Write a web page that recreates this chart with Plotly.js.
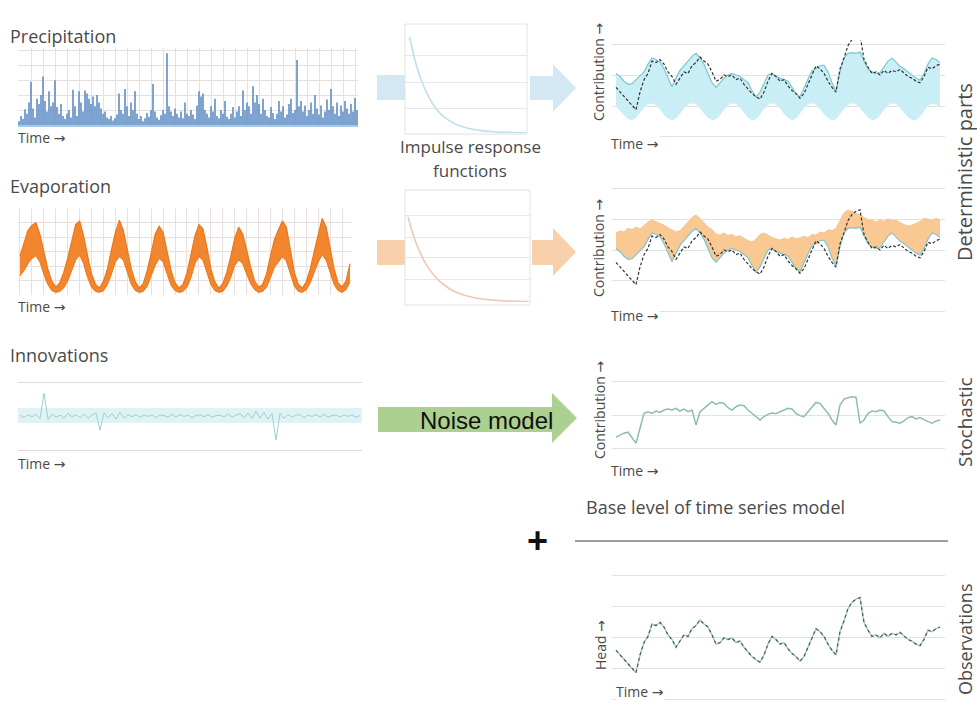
<!DOCTYPE html>
<html><head><meta charset="utf-8">
<script src="https://cdn.plot.ly/plotly-3.0.1.min.js"></script>
<style>html,body{margin:0;padding:0;background:#fff;}#chart{width:977px;height:702px;}</style>
</head><body><div id="chart"></div>
<script>
// ---------- DATA ----------
const precipitation = [
0.5,1.2,0.8,2.1,1.5,3.0,5.8,2.2,1.0,3.5,
2.8,4.0,6.5,3.2,1.8,4.5,2.5,3.0,6.0,2.4,
1.5,2.8,1.2,0.8,1.5,2.0,1.0,4.7,2.5,1.2,
4.5,3.0,1.8,4.6,4.2,3.5,2.8,3.8,2.5,4.0,
3.0,2.2,1.5,1.8,1.0,0.8,1.2,0.6,0.9,1.4,
4.2,2.0,1.5,4.8,2.5,1.2,3.0,2.0,4.5,1.5,
0.8,1.2,0.5,0.9,1.6,1.1,2.0,5.5,1.8,1.0,
0.7,1.3,2.0,1.5,9.6,2.5,1.8,1.2,2.2,1.5,
1.0,1.8,0.9,3.0,1.5,1.2,2.0,1.4,0.8,2.6,
4.5,3.8,4.2,2.0,1.5,1.0,2.5,1.8,3.5,1.2,
0.9,2.0,1.5,3.2,1.1,0.8,1.5,2.4,1.0,1.8,
2.5,1.2,4.6,2.0,3.0,2.5,1.5,5.2,3.0,4.0,
2.8,1.5,3.5,2.0,1.2,1.0,2.4,1.6,0.8,1.5,
3.2,1.8,2.5,1.0,1.4,2.8,3.5,1.6,2.0,8.7,
2.5,3.2,1.8,2.6,1.2,2.0,3.0,1.5,4.0,2.2,
1.4,2.6,1.0,1.8,3.4,2.0,4.8,2.5,1.5,3.0,
1.2,2.6,1.8,3.2,2.2,1.5,2.8,1.8,3.6,2.0];

const evapUpper = [
4.5,6.0,7.4,8.0,8.3,7.0,5.0,3.0,1.6,0.9,
1.4,2.6,4.2,6.3,8.1,8.5,6.8,4.5,2.4,1.2,
0.8,1.6,3.0,5.2,7.2,8.6,7.4,5.2,3.0,1.5,
0.8,1.3,2.8,4.8,7.0,7.9,7.2,5.0,2.8,1.4,
0.8,1.2,2.5,4.6,6.8,8.1,7.6,5.5,3.0,1.5,
0.8,1.3,2.6,4.4,6.5,7.8,7.0,5.2,3.2,1.6,
0.9,1.2,2.4,4.5,6.4,7.5,8.5,7.8,5.0,2.6,
1.2,0.8,1.5,3.0,5.0,7.0,8.8,7.8,5.4,3.0,
1.4,0.9,1.6,3.6];
const evapLower = [
2.2,2.8,3.6,4.2,4.5,3.8,2.4,1.2,0.5,0.3,
0.4,0.8,1.6,2.8,4.0,4.6,3.6,2.0,0.9,0.4,
0.3,0.5,1.2,2.4,3.8,4.4,4.0,2.6,1.2,0.5,
0.3,0.4,1.0,2.2,3.4,4.2,3.8,2.4,1.1,0.5,
0.3,0.4,0.9,2.0,3.6,4.4,4.0,2.6,1.2,0.5,
0.3,0.4,1.0,2.0,3.4,4.0,3.6,2.4,1.3,0.6,
0.3,0.4,0.9,2.0,3.2,3.8,4.4,3.9,2.4,1.0,
0.4,0.3,0.6,1.4,2.6,3.8,4.6,4.0,2.6,1.2,
0.5,0.3,0.6,1.5];

const innovations = [
0.10,-0.20,0.15,-0.10,0.20,-0.30,2.70,-0.40,0.20,-0.15,
0.10,-0.25,0.30,-0.10,0.15,-0.20,0.25,-0.30,0.10,0.35,
-1.65,0.40,-0.20,0.30,-0.35,0.45,-0.25,0.15,-0.10,0.20,
-0.15,0.10,-0.05,0.15,-0.20,0.10,0.05,-0.15,0.20,-0.10,
0.15,-0.05,0.10,-0.20,0.05,0.15,-0.10,0.20,-0.15,0.05,
0.10,-0.10,0.25,-0.15,0.10,0.30,-0.20,0.35,-0.30,0.55,
-0.25,0.40,-0.35,0.30,-2.80,0.35,-0.30,0.20,-0.15,0.10,
0.15,-0.20,0.10,-0.05,0.15,-0.10,0.20,-0.15,0.05,0.10,
-0.10,0.15,-0.05,0.10,-0.15,0.05];

const irfLag = [0,1,2,3,4,5,6,7,8,9,10,11,12,13,14,15,16,17,18,19,20];
const irfPrecip = [1.00,0.74,0.55,0.41,0.30,0.22,0.165,0.122,0.09,0.067,0.05,0.037,0.027,0.02,0.015,0.011,0.008,0.006,0.004,0.003,0.002];
const irfEvap = [1.00,0.76,0.58,0.44,0.34,0.26,0.20,0.15,0.115,0.088,0.067,0.051,0.039,0.03,0.023,0.017,0.013,0.01,0.008,0.006,0.005];

const simulation = [
2.05,1.95,1.80,1.70,1.72,1.85,1.95,2.10,2.35,2.55,
2.50,2.42,2.20,1.90,1.62,1.90,2.15,2.30,2.45,2.60,
2.70,2.55,2.35,2.05,1.75,1.60,1.75,1.90,2.00,2.05,
2.00,1.95,1.85,1.75,1.50,1.28,1.45,1.75,2.00,2.05,
1.95,1.90,1.85,1.80,1.60,1.40,1.30,1.60,1.90,2.15,
2.20,2.30,2.32,2.10,1.75,1.48,2.10,2.55,2.70,2.72,
2.70,2.74,2.45,2.20,2.10,2.05,2.08,2.25,2.45,2.55,
2.40,2.28,2.20,2.10,2.00,1.90,1.84,2.05,2.35,2.55,
2.50,2.40];
const precipBase = [
1.00,0.85,0.70,0.58,0.55,0.62,0.78,0.95,1.05,1.08,
1.02,0.88,0.72,0.60,0.55,0.60,0.75,0.92,1.04,1.08,
1.05,0.92,0.76,0.62,0.55,0.57,0.70,0.88,1.02,1.08,
1.06,0.95,0.78,0.63,0.55,0.58,0.72,0.90,1.03,1.08,
1.04,0.92,0.75,0.62,0.55,0.60,0.76,0.93,1.05,1.08,
1.03,0.90,0.74,0.61,0.55,0.58,0.73,0.90,1.03,1.08,
1.05,0.93,0.77,0.63,0.55,0.57,0.70,0.88,1.02,1.08,
1.06,0.94,0.78,0.64,0.56,0.55,0.66,0.84,1.00,1.07,
1.05,0.95];
const evapTop = [
2.55,2.62,2.58,2.70,2.66,2.74,2.68,2.80,2.90,2.97,
2.92,2.85,2.80,2.72,2.65,2.58,2.62,2.75,2.90,3.05,
3.13,3.02,2.88,2.74,2.66,2.52,2.48,2.55,2.46,2.50,
2.42,2.46,2.38,2.30,2.26,2.35,2.50,2.55,2.48,2.40,
2.36,2.32,2.38,2.34,2.42,2.36,2.39,2.44,2.40,2.50,
2.48,2.58,2.55,2.65,2.62,2.70,2.95,3.20,3.29,3.25,
3.18,3.13,3.05,2.98,2.97,2.90,2.97,2.92,3.00,2.95,
2.97,2.88,2.82,2.78,2.80,2.85,2.92,3.03,3.00,2.96,
3.02,2.97];
const noiseContribution = [
-0.67,-0.60,-0.55,-0.52,-0.70,-0.85,-0.40,0.05,0.10,0.05,
0.12,0.08,0.15,0.18,0.15,0.20,0.12,0.18,0.10,0.15,
-0.30,0.10,0.20,0.30,0.40,0.32,0.38,0.35,0.22,0.15,
0.25,0.30,0.28,0.15,0.05,-0.05,-0.15,-0.05,0.02,0.06,
0.04,0.10,0.15,0.20,0.18,0.05,-0.02,-0.05,0.10,0.25,
0.38,0.35,0.20,0.05,-0.15,-0.30,0.30,0.48,0.52,0.55,
0.54,-0.25,-0.15,0.05,0.12,0.10,0.15,0.12,-0.05,-0.20,
-0.22,-0.25,-0.18,-0.08,-0.05,-0.12,-0.08,-0.15,-0.20,-0.25,
-0.18,-0.15];
const observedHead = [
1.60,1.45,1.30,1.15,1.00,0.88,1.45,1.85,2.05,2.45,
2.40,2.50,2.35,2.10,1.95,1.70,1.90,2.10,2.05,2.30,
2.40,2.58,2.45,2.35,2.10,1.80,1.85,2.00,1.95,2.00,
1.85,1.90,1.70,1.55,1.40,1.30,1.22,1.45,1.80,2.05,
1.95,1.80,1.85,1.65,1.50,1.40,1.25,1.40,1.70,2.00,
2.30,2.20,2.05,1.80,1.60,1.45,2.20,2.55,2.95,3.15,
3.25,3.30,2.50,2.25,2.05,2.10,2.00,2.15,2.05,2.15,
2.10,2.18,2.05,1.95,1.90,1.80,1.75,1.95,2.25,2.20,
2.30,2.35];

// ---------- LAYOUT HELPERS ----------
const W = 977, H = 702;
const fx = p => p / W, fy = p => 1 - p / H;
const steps = n => Array.from({length: n}, (_, i) => i);
const tPrecip = steps(precipitation.length);
const tEvap = steps(evapUpper.length);
const tInnov = steps(innovations.length);
const tModel = steps(simulation.length);

function xa(a, b, range, extra) {
  return Object.assign({domain: [fx(a), fx(b)], range: range, showgrid: false, zeroline: false,
    showticklabels: false, ticks: '', fixedrange: true}, extra || {});
}
function ya(top, bot, range, extra) {
  return Object.assign({domain: [fy(bot), fy(top)], range: range, showgrid: false, zeroline: false,
    showticklabels: false, ticks: '', fixedrange: true}, extra || {});
}
const gridL = '#e8dfdf', gridR = '#e2e2e2';

const traces = [
  {type: 'bar', x: tPrecip, y: precipitation, xaxis: 'x', yaxis: 'y',
   marker: {color: '#5f8dc6', line: {width: 0}}, hoverinfo: 'skip'},
  {type: 'scatter', mode: 'lines', x: tEvap, y: evapLower, xaxis: 'x2', yaxis: 'y2',
   line: {color: '#ee7718', width: 1}},
  {type: 'scatter', mode: 'lines', x: tEvap, y: evapUpper, xaxis: 'x2', yaxis: 'y2',
   line: {color: '#ee7718', width: 1.2}, fill: 'tonexty', fillcolor: 'rgba(240,124,28,0.92)'},
  {type: 'scatter', mode: 'lines', x: tInnov, y: innovations, xaxis: 'x3', yaxis: 'y3',
   line: {color: '#9ccfd4', width: 1}},
  {type: 'scatter', mode: 'lines', x: irfLag, y: irfPrecip, xaxis: 'x4', yaxis: 'y4',
   line: {color: '#bfe0ea', width: 1.6, shape: 'spline'}},
  {type: 'scatter', mode: 'lines', x: irfLag, y: irfEvap, xaxis: 'x5', yaxis: 'y5',
   line: {color: '#f3c6b6', width: 1.6, shape: 'spline'}},
  // precipitation contribution
  {type: 'scatter', mode: 'lines', x: tModel, y: precipBase, xaxis: 'x6', yaxis: 'y6',
   line: {color: 'rgba(0,0,0,0)', width: 0, shape: 'spline'}},
  {type: 'scatter', mode: 'lines', x: tModel, y: simulation, xaxis: 'x6', yaxis: 'y6',
   line: {color: '#7cc8cf', width: 1.2}, fill: 'tonexty', fillcolor: '#c9eef5'},
  {type: 'scatter', mode: 'lines', x: tModel, y: observedHead, xaxis: 'x6', yaxis: 'y6',
   line: {color: '#333', width: 1.2, dash: '3px,2px'}},
  // evaporation contribution
  {type: 'scatter', mode: 'lines', x: tModel, y: simulation, xaxis: 'x7', yaxis: 'y7',
   line: {color: 'rgba(0,0,0,0)', width: 0}},
  {type: 'scatter', mode: 'lines', x: tModel, y: evapTop, xaxis: 'x7', yaxis: 'y7',
   line: {color: '#f8c58e', width: 1}, fill: 'tonexty', fillcolor: '#f9c893'},
  {type: 'scatter', mode: 'lines', x: tModel, y: simulation, xaxis: 'x7', yaxis: 'y7',
   line: {color: '#7cc8cf', width: 1.2}},
  {type: 'scatter', mode: 'lines', x: tModel, y: observedHead, xaxis: 'x7', yaxis: 'y7',
   line: {color: '#333', width: 1.2, dash: '3px,2px'}},
  // stochastic
  {type: 'scatter', mode: 'lines', x: tModel, y: noiseContribution, xaxis: 'x8', yaxis: 'y8',
   line: {color: '#8cbfa7', width: 1.5}},
  // observations
  {type: 'scatter', mode: 'lines', x: tModel, y: observedHead, xaxis: 'x9', yaxis: 'y9',
   line: {color: '#9fd0c0', width: 1.5}},
  {type: 'scatter', mode: 'lines', x: tModel, y: observedHead, xaxis: 'x9', yaxis: 'y9',
   line: {color: '#555', width: 1.2, dash: '3px,3px'}}
];

function pathPx(pts) {
  return 'M ' + pts.map(p => fx(p[0]).toFixed(5) + ',' + fy(p[1]).toFixed(5)).join(' L ') + ' Z';
}
function rectPx(x0, y0, x1, y1, style) {
  return Object.assign({type: 'rect', xref: 'paper', yref: 'paper', x0: fx(x0), x1: fx(x1), y0: fy(y1), y1: fy(y0)}, style);
}
const shapes = [
  rectPx(18, 408, 362, 423, {fillcolor: '#dff3f6', line: {width: 0}, layer: 'below'}),
  rectPx(377, 75, 405, 100, {fillcolor: '#d4e8f3', line: {width: 0}, layer: 'below'}),
  {type: 'path', xref: 'paper', yref: 'paper', path: pathPx([[530,76],[553,76],[553,64],[576,88],[553,112],[553,100],[530,100]]),
   fillcolor: '#d4e8f3', line: {width: 0}, layer: 'below'},
  rectPx(377, 240, 405, 265, {fillcolor: '#f9d0ac', line: {width: 0}, layer: 'below'}),
  {type: 'path', xref: 'paper', yref: 'paper', path: pathPx([[532,240],[553,240],[553,228],[576,252],[553,276],[553,265],[532,265]]),
   fillcolor: '#f9d0ac', line: {width: 0}, layer: 'below'},
  {type: 'path', xref: 'paper', yref: 'paper', path: pathPx([[378,407],[552,407],[552,393],[577,418],[552,443],[552,432],[378,432]]),
   fillcolor: '#abd08f', line: {width: 0}, layer: 'below'},
  rectPx(405, 24, 527, 134, {fillcolor: 'rgba(0,0,0,0)', line: {color: '#e2e2e2', width: 1}}),
  rectPx(405, 190, 530, 305, {fillcolor: 'rgba(0,0,0,0)', line: {color: '#e2e2e2', width: 1}}),
  {type: 'line', xref: 'paper', yref: 'paper', x0: fx(575), x1: fx(948), y0: fy(541), y1: fy(541),
   line: {color: '#9d9d9d', width: 2}}
];

const txt = '#4a4a4a';
const ARROW = '<span style="font-family:DejaVu Sans">→</span>';
function ann(text, x, y, size, extra) {
  return Object.assign({text: text, x: fx(x), y: fy(y), xref: 'paper', yref: 'paper', showarrow: false,
    xanchor: 'left', yanchor: 'middle', font: {size: size, color: txt, family: 'Open Sans'}}, extra || {});
}
const white = {bgcolor: '#ffffff', borderpad: 0};
const rot = {textangle: -90, xanchor: 'center', yanchor: 'middle'};
const timeLbl = 'Time ' + ARROW;
const annotations = [
  ann('Precipitation', 8, 36, 18),
  ann('Evaporation', 8, 186, 18),
  ann('Innovations', 8, 355, 18),
  ann(timeLbl, 16, 137, 14),
  ann(timeLbl, 16, 307, 14),
  ann(timeLbl, 16, 463, 14),
  ann(timeLbl, 610, 143, 14, white),
  ann(timeLbl, 610, 315, 14, white),
  ann(timeLbl, 610, 470, 14, white),
  ann(timeLbl, 615, 691, 14, white),
  ann('Impulse response', 470, 146, 17, {xanchor: 'center'}),
  ann('functions', 470, 170, 17, {xanchor: 'center'}),
  ann('Contribution ' + ARROW, 599, 72, 14, rot),
  ann('Contribution ' + ARROW, 599, 248, 14, rot),
  ann('Contribution ' + ARROW, 599, 410, 14, rot),
  ann('Head ' + ARROW, 600, 645, 14, rot),
  ann('Deterministic parts', 965, 172, 20, rot),
  ann('Stochastic', 965, 422, 19, rot),
  ann('Observations', 965, 640, 18, rot),
  ann('Base level of time series model', 584, 507, 18),
  ann('<b>+</b>', 537, 540, 36, {xanchor: 'center', font: {size: 36, color: '#111', family: 'Liberation Sans'}}),
  ann('Noise model', 486, 420, 24, {xanchor: 'center', font: {size: 24, color: '#111', family: 'Liberation Sans'}})
];

const layout = {
  width: W, height: H, margin: {l: 0, r: 0, t: 0, b: 0},
  paper_bgcolor: '#ffffff', plot_bgcolor: 'rgba(0,0,0,0)',
  showlegend: false, bargap: 0.2,
  font: {family: 'Open Sans', color: txt},
  xaxis: xa(18, 358, [-0.5, 169.5], {anchor: 'y', showgrid: true, gridcolor: gridL, dtick: 6, tick0: 0, showline: true, linecolor: '#a9c8e8', linewidth: 2}),
  yaxis: ya(48, 125, [0, 10.3], {anchor: 'x', showgrid: true, gridcolor: gridL, dtick: 2}),
  xaxis2: xa(18, 352, [-0.5, 83.5], {anchor: 'y2', showgrid: true, gridcolor: gridL, dtick: 3, tick0: 0}),
  yaxis2: ya(208, 295, [0, 10], {anchor: 'x2', showgrid: true, gridcolor: gridL, dtick: 1.6667, tick0: 0}),
  xaxis3: xa(18, 362, [-0.5, 85.5], {anchor: 'y3'}),
  yaxis3: ya(380, 452, [-4.235, 4.235], {anchor: 'x3', showgrid: true, gridcolor: '#dadada', tickvals: [-4, 4]}),
  xaxis4: xa(405, 527, [-0.8, 20.2], {anchor: 'y4'}),
  yaxis4: ya(28, 133, [0, 1.094], {anchor: 'x4', showgrid: true, gridcolor: '#e8e8e8', tickvals: [0.26, 0.53, 0.81]}),
  xaxis5: xa(405, 530, [-0.5, 20.2], {anchor: 'y5'}),
  yaxis5: ya(192, 302, [0, 1.294], {anchor: 'x5', showgrid: true, gridcolor: '#e8e8e8', tickvals: [0.26, 0.52, 0.76, 1.02]}),
  xaxis6: xa(612, 945, [-1, 82.25], {anchor: 'y6'}),
  yaxis6: ya(40, 140, [-0.097, 3.129], {anchor: 'x6', showgrid: true, gridcolor: gridR, tickvals: [0, 1, 2, 3]}),
  xaxis7: xa(612, 945, [-1, 82.25], {anchor: 'y7'}),
  yaxis7: ya(184, 316, [-0.13, 4.13], {anchor: 'x7', showgrid: true, gridcolor: gridR, tickvals: [0, 1, 2, 3, 4]}),
  xaxis8: xa(612, 945, [-1, 82.25], {anchor: 'y8'}),
  yaxis8: ya(375, 455, [-1.21, 1.21], {anchor: 'x8', showgrid: true, gridcolor: gridR, tickvals: [-1, 0, 1]}),
  xaxis9: xa(612, 945, [-1, 82.25], {anchor: 'y9'}),
  yaxis9: ya(570, 702, [-0.065, 4.19], {anchor: 'x9', showgrid: true, gridcolor: gridR, tickvals: [0, 1, 2, 3, 4]}),
  shapes: shapes,
  annotations: annotations
};

Plotly.newPlot('chart', traces, layout, {staticPlot: true, displayModeBar: false});
</script>
</body></html>
